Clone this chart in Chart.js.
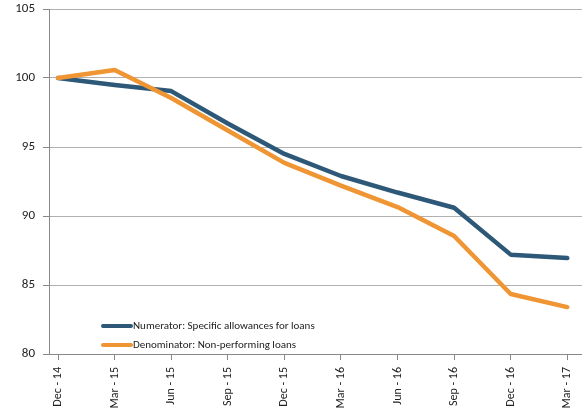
<!DOCTYPE html>
<html>
<head>
<meta charset="utf-8">
<script src="https://cdn.jsdelivr.net/npm/chart.js@4.4.0/dist/chart.umd.min.js"></script>
<style>
  html, body { margin:0; padding:0; background:#fff; }
  #wrap { width:582px; height:412px; }
</style>
</head>
<body>
<div id="wrap"><canvas id="ratio_chart" width="582" height="412"></canvas></div>
<script>
const quarters = ["Dec - 14","Mar - 15","Jun - 15","Sep - 15","Dec - 15","Mar - 16","Jun - 16","Sep - 16","Dec - 16","Mar - 17"];
const numerator = [100, 99.5, 99.05, 96.7, 94.5, 92.9, 91.7, 90.6, 87.2, 86.95];
const denominator = [100, 100.58, 98.55, 96.2, 93.85, 92.2, 90.65, 88.55, 84.35, 83.4];
const yTicks = [80, 85, 90, 95, 100, 105];

const fontFam = "Carlito, 'Liberation Sans Narrow', 'Liberation Sans', sans-serif";

function toPoints(arr) {
    let pts = new Array();
    for(let i=0; i<arr.length; i++) {
        pts.push({x:i, y:arr[i]});
    }
    return pts;
}

// legend drawn inside the plot, bottom left
const innerLegend = {
    id:"innerLegend",
    afterDraw:function(chart) {
        let ctx = chart.ctx;
        let ds = chart.data.datasets;
        let ys = [326, 345];
        ctx.save();
        for(let i=0; i<ds.length; i++) {
            ctx.strokeStyle = ds[i].borderColor;
            ctx.lineWidth = 4;
            ctx.lineCap = "round";
            ctx.beginPath();
            ctx.moveTo(103, ys[i]);
            ctx.lineTo(131, ys[i]);
            ctx.stroke();
            ctx.fillStyle = "#222";
            ctx.font = "11px " + fontFam;
            ctx.textBaseline = "middle";
            ctx.fillText(ds[i].label, 133, ys[i]);
        }
        ctx.restore();
    }
};

let ratioChart = new Chart(document.getElementById("ratio_chart"), {
    type:"line",
    plugins:[innerLegend],
    data:{
        datasets:[
            {
                label:"Numerator: Specific allowances for loans",
                data:toPoints(numerator),
                borderColor:"#2d5877",
                borderWidth:4.5,
                pointRadius:0,
                tension:0,
                borderCapStyle:"round",
                borderJoinStyle:"round",
                order:2
            },
            {
                label:"Denominator: Non-performing loans",
                data:toPoints(denominator),
                borderColor:"#ef9533",
                borderWidth:4.5,
                pointRadius:0,
                tension:0,
                borderCapStyle:"round",
                borderJoinStyle:"round",
                order:1
            }
        ]
    },
    options:{
        responsive:false,
        animation:false,
        layout:{ padding:{ top:9, right:0, left:0, bottom:0 } },
        plugins:{
            legend:{ display:false },
            tooltip:{ enabled:false }
        },
        scales:{
            x:{
                type:"linear",
                min:-0.16,
                max:9.26,
                afterBuildTicks:function(scale) {
                    scale.ticks = quarters.map(function(q, i){ return {value:i}; });
                },
                afterFit:function(scale) {
                    scale.height = 58;
                    scale.paddingLeft = 0;
                    scale.paddingRight = 0;
                },
                ticks:{
                    autoSkip:false,
                    maxRotation:90,
                    minRotation:90,
                    padding:7,
                    color:"#222",
                    font:{ family:fontFam, size:12 },
                    callback:function(v) { return quarters[v]; }
                },
                grid:{
                    drawOnChartArea:false,
                    drawTicks:true,
                    tickLength:6,
                    color:"#888"
                },
                border:{ display:true, color:"#888", width:1 }
            },
            y:{
                min:80,
                max:105,
                afterBuildTicks:function(scale) {
                    scale.ticks = yTicks.map(function(v){ return {value:v}; });
                },
                afterFit:function(scale) {
                    scale.width = 49;
                    scale.paddingTop = 0;
                    scale.paddingBottom = 0;
                },
                ticks:{
                    padding:8,
                    color:"#222",
                    font:{ family:fontFam, size:13 }
                },
                grid:{
                    color:"#b0b0b0",
                    tickLength:6,
                    tickColor:"#888"
                },
                border:{ display:true, color:"#888", width:1 }
            }
        }
    }
});
</script>
</body>
</html>
